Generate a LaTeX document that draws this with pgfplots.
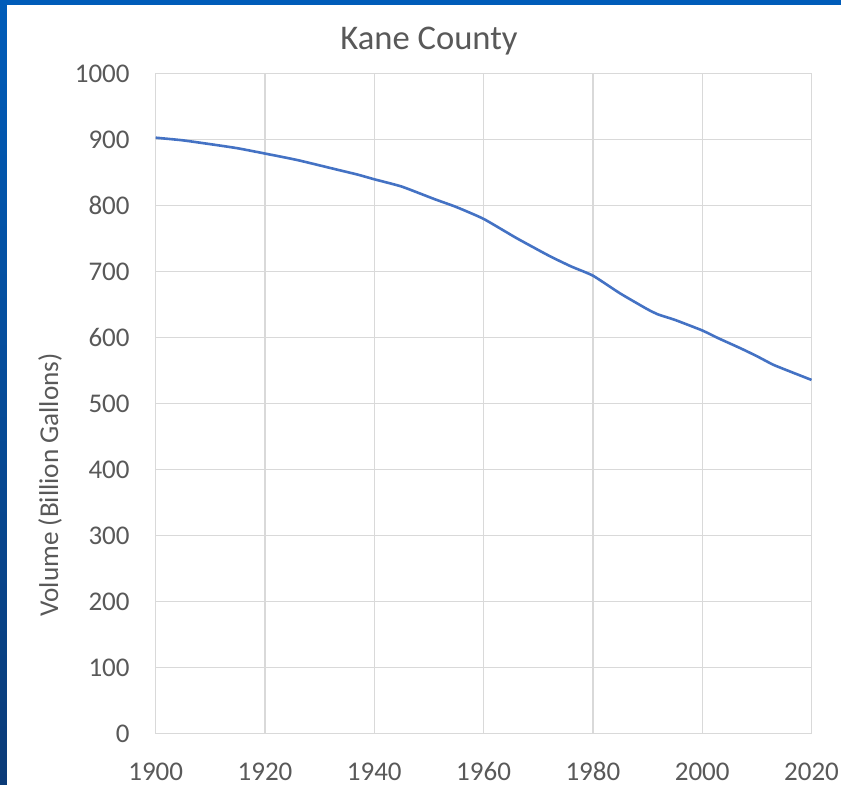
\documentclass[border=0pt]{standalone}
\usepackage{pgfplots}
\pgfplotsset{compat=1.18}
\usepackage{fontspec}
\setmainfont{Carlito}

\definecolor{txtgray}{HTML}{595959}
\definecolor{gridgray}{HTML}{D9D9D9}
\definecolor{serieblue}{HTML}{4472C4}
\definecolor{frametop}{HTML}{005CB9}
\definecolor{framebot}{HTML}{0B3B78}

% Groundwater volume, Kane County (billion gallons)
\pgfplotstableread{
year vol
1900 903
1905 899
1911 892
1915 887
1920 879
1926 869
1933 855
1937 847
1940 840
1945 829
1951 810
1955 798
1960 780
1966 751
1972 724
1976 708
1980 694
1985 667
1990 643
1992 635
1995 627
2000 611
2003 599
2007 584
2010 572
2013 559
2016 549
2020 536
}\kanedata

\begin{document}
\begin{tikzpicture}[x=1pt,y=1pt]
\useasboundingbox (0,0) rectangle (420.5,392.5);
% slide frame
\shade[top color=frametop,bottom color=framebot] (0,0) rectangle (3.5,392.5);
\fill[frametop] (0,390) rectangle (420.5,392.5);
\fill[white] (3.5,0) rectangle (420.5,390);

\begin{axis}[
  at={(77.85pt,25.65pt)}, anchor=south west,
  scale only axis, width=327.9pt, height=330pt,
  xmin=1900, xmax=2020, ymin=0, ymax=1000,
  xtick={1900,1920,...,2020}, ytick={0,100,...,1000},
  grid=major, major grid style={gridgray,line width=0.7pt},
  axis line style={gridgray,line width=0.7pt},
  tick style={draw=none},
  /pgf/number format/assume math mode=true,
  /pgf/number format/1000 sep={},
  ticklabel style={font=\fontsize{13.5}{16}\selectfont, text=txtgray, inner sep=0pt},
  yticklabel style={anchor=east, xshift=-12.85pt},
  xticklabel style={anchor=north, yshift=-14.2pt},
  clip=false,
]
\addplot[serieblue, line width=1.3pt, smooth, tension=0.3] table[x=year,y=vol] {\kanedata};
\end{axis}

\node[anchor=base, text=txtgray, font=\fontsize{17.3}{20}\selectfont, inner sep=0pt] at (214.5,367.5) {Kane County};
\node[rotate=90, text=txtgray, font=\fontsize{13.6}{16}\selectfont, inner sep=0pt] at (25,150) {Volume (Billion Gallons)};
\end{tikzpicture}
\end{document}
